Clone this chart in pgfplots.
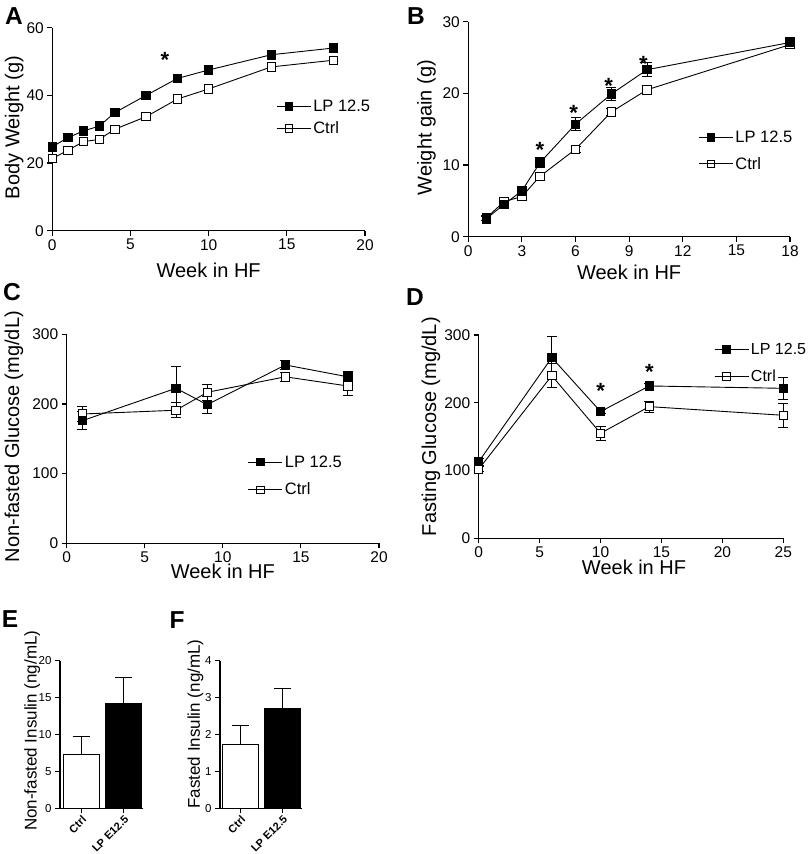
\documentclass[border=0pt]{standalone}
\usepackage{fontspec}
\setmainfont{Liberation Sans}
\usepackage{pgfplots}
\pgfplotsset{compat=1.18}
\pgfplotsset{
 gp/.style={
  scale only axis, axis lines=left, axis line style={-, line width=1.1pt},
  tick align=outside, major tick length=5pt, tick style={line width=1.1pt, black},
  /pgf/number format/assume math mode=true,
  ticklabel style={font=\fontsize{15.5}{16}\selectfont},
  label style={font=\fontsize{20}{22}\selectfont},
  clip=false,
  legend style={draw=none, fill=none, font=\fontsize{16.5}{16.5}\selectfont, anchor=west, inner sep=0pt},
  legend cell align=left,
  reverse legend,
  legend image code/.code={\draw[mark repeat=2, mark phase=2, ##1, mark size=3.8pt] plot coordinates {(0pt,0pt) (12pt,0pt) (24pt,0pt)}; \path (0pt,0pt) -- (34pt,0pt);},
  every axis plot/.append style={line width=0.9pt},
  error bars/error bar style={line width=0.9pt},
  error bars/error mark options={line width=0.9pt, mark size=5pt, rotate=90},
 },
 lp/.style={black, mark=square*, mark size=4.2pt, mark options={fill=black, solid}},
 ct/.style={black, mark=square*, mark size=4.2pt, mark options={fill=white, solid}},
}
\tikzset{astx/.style={font=\bfseries\fontsize{22}{22}\selectfont, inner sep=0pt, yshift=-4.7pt}}
\newcommand{\panel}[3]{\node[font=\bfseries\fontsize{24.5}{24.5}\selectfont, inner sep=0pt] at (#1pt,#2pt) {#3};}
\begin{document}
\begin{tikzpicture}
\useasboundingbox (0pt,0pt) rectangle (810pt,854pt);
% ---------- A ----------
\begin{axis}[gp, at={(52.3pt,623.3pt)}, anchor=south west, width=312.7pt, height=203pt,
  xmin=0, xmax=20, ymin=0, ymax=60, xtick={0,5,...,20}, ytick={0,20,40,60},
  xlabel={Week in HF}, ylabel={Body Weight (g)},
  xlabel style={at={(axis description cs:0.5,0)}, anchor=base, yshift=-47pt},
  ylabel style={at={(axis description cs:-0.1055,0.508)}, anchor=base},
  legend style={at={(axis description cs:0.716,0.558)}, row sep=4.5pt}]
\addplot[ct] coordinates {(0,21.3) (1,23.8) (2,26.3) (3,27) (4,30) (6,33.7) (8,38.9) (10,41.9) (14,48.4) (18,50.4)};
\addlegendentry{Ctrl}
\addplot[lp] coordinates {(0,24.8) (1,27.5) (2,29.5) (3,30.9) (4,34.9) (6,40) (8,45) (10,47.5) (14,52) (18,54)};
\addlegendentry{LP 12.5}
\node[astx] at (axis cs:7.2,51.9) {*};
\end{axis}
% ---------- B ----------
\begin{axis}[gp, at={(468.3pt,617.3pt)}, anchor=south west, width=321.7pt, height=215pt,
  xmin=0, xmax=18, ymin=0, ymax=30, xtick={0,3,...,18}, ytick={0,10,20,30},
  xlabel={Week in HF}, ylabel={Weight gain (g)},
  xlabel style={at={(axis description cs:0.5,0)}, anchor=base, yshift=-43.3pt},
  ylabel style={at={(axis description cs:-0.1138,0.508)}, anchor=base},
  legend style={at={(axis description cs:0.715,0.399)}, row sep=9pt}]
\addplot[ct, error bars/.cd, y dir=both, y explicit] coordinates {(1,2.6) +- (0,0.3) (2,4.9) +- (0,0.3) (3,5.6) +- (0,0.3) (4,8.4) +- (0,0.4) (6,12.2) +- (0,0.4) (8,17.4) +- (0,0.5) (10,20.5) +- (0,0.5) (18,26.8) +- (0,0.5)};
\addlegendentry{Ctrl}
\addplot[lp, error bars/.cd, y dir=both, y explicit] coordinates {(1,2.5) +- (0,0.3) (2,4.5) +- (0,0.3) (3,6.4) +- (0,0.5) (4,10.3) +- (0,0.7) (6,15.7) +- (0,0.9) (8,19.9) +- (0,0.9) (10,23.3) +- (0,1.0) (18,27.1) +- (0,0.7)};
\addlegendentry{LP 12.5}
\node[astx] at (axis cs:4,12.7) {*};
\node[astx] at (axis cs:5.9,17.9) {*};
\node[astx] at (axis cs:7.85,21.7) {*};
\node[astx] at (axis cs:9.8,24.8) {*};
\end{axis}
% ---------- C ----------
\begin{axis}[gp, at={(66.7pt,310.7pt)}, anchor=south west, width=312.3pt, height=209pt,
  xmin=0, xmax=20, ymin=0, ymax=300, xtick={0,5,...,20}, ytick={0,100,200,300},
  xlabel={Week in HF}, ylabel={Non-fasted Glucose (mg/dL)},
  xlabel style={at={(axis description cs:0.5,0)}, anchor=base, yshift=-35pt},
  ylabel style={at={(axis description cs:-0.1527,0.51)}, anchor=base},
  legend style={at={(axis description cs:0.58,0.322)}, row sep=10.5pt}]
\addplot[ct, error bars/.cd, y dir=both, y explicit] coordinates {(1,185.6) +- (0,11) (7,191) +- (0,11) (9,216.7) +- (0,11) (14,239) +- (0,6) (18,225.8) +- (0,14)};
\addlegendentry{Ctrl}
\addplot[lp, error bars/.cd, y dir=both, y explicit] coordinates {(1,176) +- (0,13) (7,222.5) +- (0,31.5) (9,199) +- (0,12) (14,256) +- (0,7) (18,239) +- (0,8)};
\addlegendentry{LP 12.5}
\end{axis}
% ---------- D ----------
\begin{axis}[gp, at={(478.7pt,315.7pt)}, anchor=south west, width=304.6pt, height=203.3pt,
  xmin=0, xmax=25, ymin=0, ymax=300, xtick={0,5,...,25}, ytick={0,100,200,300},
  xlabel={Week in HF}, ylabel={Fasting Glucose (mg/dL)},
  xlabel style={at={(axis description cs:0.51,0)}, anchor=base, yshift=-36.7pt},
  ylabel style={at={(axis description cs:-0.1402,0.549)}, anchor=base},
  legend style={at={(axis description cs:0.772,0.861)}, row sep=10pt, font=\fontsize{16}{16}\selectfont}]
\addplot[ct, error bars/.cd, y dir=both, y explicit] coordinates {(0,102) +- (0,4) (6,240) +- (0,18) (10,155) +- (0,10) (14,194.3) +- (0,8) (25,181.5) +- (0,18)};
\addlegendentry{Ctrl}
\addplot[lp, error bars/.cd, y dir=both, y explicit] coordinates {(0,113) +- (0,5) (6,266.6) +- (0,31) (10,187) +- (0,3) (14,224.8) +- (0,3) (25,221.3) +- (0,16)};
\addlegendentry{LP 12.5}
\node[astx] at (axis cs:10,223.8) {*};
\node[astx] at (axis cs:14,252.3) {*};
\end{axis}
% ---------- E ----------
\begin{axis}[gp, at={(60pt,45.7pt)}, anchor=south west, width=83.3pt, height=147.6pt,
  xmin=-0.503, xmax=1.464, ymin=0, ymax=20, ytick={0,5,...,20}, xtick={0,1},
  xticklabels={Ctrl, LP E12.5},
  ticklabel style={font=\fontsize{11.5}{12}\selectfont},
  x tick label style={font=\bfseries\fontsize{11}{11}\selectfont, rotate=45, anchor=north east, inner sep=1pt},
  ylabel={Non-fasted Insulin (ng/mL)},
  label style={font=\fontsize{17}{19}\selectfont},
  ylabel style={at={(axis description cs:-0.28,0.525)}, anchor=base}]
\addplot[ybar, bar shift=0pt, bar width=0.85, fill=white, draw=black, line width=1.1pt,
  error bars/.cd, y dir=plus, y explicit, error mark options={line width=0.9pt, mark size=8.5pt, rotate=90}] coordinates {(0,7.3) +- (0,2.45)};
\addplot[ybar, bar shift=0pt, bar width=0.85, fill=black, draw=black, line width=1.1pt,
  error bars/.cd, y dir=plus, y explicit, error mark options={line width=0.9pt, mark size=8.5pt, rotate=90}] coordinates {(1,14.2) +- (0,3.5)};
\end{axis}
% ---------- F ----------
\begin{axis}[gp, at={(220pt,45.7pt)}, anchor=south west, width=81.7pt, height=147.6pt,
  xmin=-0.486, xmax=1.452, ymin=0, ymax=4, ytick={0,1,...,4}, xtick={0,1},
  xticklabels={Ctrl, LP E12.5},
  ticklabel style={font=\fontsize{11.5}{12}\selectfont},
  x tick label style={font=\bfseries\fontsize{11}{11}\selectfont, rotate=45, anchor=north east, inner sep=1pt},
  ylabel={Fasted Insulin (ng/mL)},
  label style={font=\fontsize{17}{19}\selectfont},
  ylabel style={at={(axis description cs:-0.245,0.571)}, anchor=base}]
\addplot[ybar, bar shift=0pt, bar width=0.85, fill=white, draw=black, line width=1.1pt,
  error bars/.cd, y dir=plus, y explicit, error mark options={line width=0.9pt, mark size=8.5pt, rotate=90}] coordinates {(0,1.74) +- (0,0.5)};
\addplot[ybar, bar shift=0pt, bar width=0.85, fill=black, draw=black, line width=1.1pt,
  error bars/.cd, y dir=plus, y explicit, error mark options={line width=0.9pt, mark size=8.5pt, rotate=90}] coordinates {(1,2.71) +- (0,0.53)};
\end{axis}
% panel letters
\panel{14}{838}{A}
\panel{416}{838}{B}
\panel{12}{562}{C}
\panel{415}{557}{D}
\panel{10}{235}{E}
\panel{177}{234}{F}
\end{tikzpicture}
\end{document}
